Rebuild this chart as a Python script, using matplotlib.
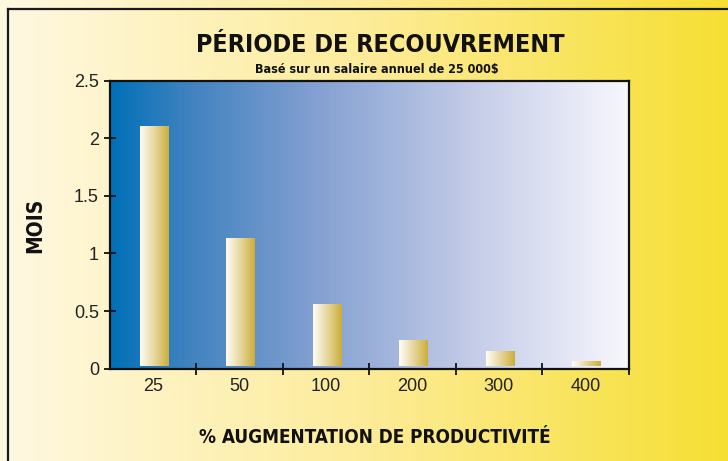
import numpy as np
import matplotlib
matplotlib.use('Agg')
import matplotlib.pyplot as plt
from matplotlib.colors import LinearSegmentedColormap
from matplotlib.lines import Line2D

# data
categories = ['25', '50', '100', '200', '300', '400']
months = [2.10, 1.125, 0.56, 0.24, 0.145, 0.058]
y_ticks = [0, 0.5, 1, 1.5, 2, 2.5]
y_tick_labels = ['0', '0.5', '1', '1.5', '2', '2.5']

title = 'PÉRIODE DE RECOUVREMENT'
subtitle = 'Basé sur un salaire annuel de 25 000$'
x_label = '% AUGMENTATION DE PRODUCTIVITÉ'
y_label = 'MOIS'

narrow = ['DejaVu Sans']
plain = ['Liberation Sans', 'DejaVu Sans']

# colour ramps
bg_cmap = LinearSegmentedColormap.from_list('bg', [
    (0.0, (1.00, 0.973, 0.886)),
    (0.5, (0.992, 0.925, 0.600)),
    (1.0, (0.965, 0.875, 0.200))])
plot_cmap = LinearSegmentedColormap.from_list('plot', [
    (0.0, (0.00, 0.44, 0.72)),
    (0.15, (0.25, 0.51, 0.75)),
    (0.40, (0.52, 0.63, 0.82)),
    (0.70, (0.77, 0.80, 0.91)),
    (1.0, (0.97, 0.97, 0.99))])
bar_cmap = LinearSegmentedColormap.from_list('bar', [
    (0.0, (1.0, 0.995, 0.97)),
    (0.5, (0.90, 0.84, 0.62)),
    (1.0, (0.80, 0.68, 0.22))])
ramp = np.linspace(0, 1, 256).reshape(1, -1)

fig = plt.figure(figsize=(7.28, 4.61), dpi=100)

# yellow page background
bg = fig.add_axes([0, 0, 1, 1], zorder=-10)
bg.imshow(ramp, cmap=bg_cmap, aspect='auto', extent=[0, 1, 0, 1])
bg.set_axis_off()

# page frame (top and left edges only are visible)
fx, fy = 7.5 / 728, 1 - 9.5 / 461
fig.add_artist(Line2D([fx, fx], [0, fy], transform=fig.transFigure, color='#1a1a1a', lw=1.6))
fig.add_artist(Line2D([fx, 1], [fy, fy], transform=fig.transFigure, color='#1a1a1a', lw=1.6))

ax = fig.add_axes([110 / 728, 1 - 368.7 / 461, 518.6 / 728, 288 / 461])
x = np.arange(len(categories))
ax.imshow(ramp, cmap=plot_cmap, aspect='auto', extent=[-0.5, len(categories) - 0.5, 0, 2.5], zorder=0)

# bars: white-to-gold gradient filling each bar rectangle
base = 0.022
bars = ax.bar(x + 0.01, np.array(months) - base, bottom=base, width=0.33, color='none', zorder=2)
for b in bars:
    x0, y0, w, h = b.get_x(), b.get_y(), b.get_width(), b.get_height()
    ax.imshow(ramp, cmap=bar_cmap, aspect='auto', extent=[x0, x0 + w, y0, y0 + h], zorder=2)
ax.set_xlim(-0.5, len(categories) - 0.5)
ax.set_ylim(0, 2.5)

for s in ax.spines.values():
    s.set_linewidth(1.6)
    s.set_color('#111111')

ax.set_xticks(x, categories)
ax.set_xticks(np.append(x[1:] - 0.5, x[-1] + 0.5), minor=True)
ax.tick_params(axis='x', which='major', length=0, pad=7, labelsize=13, labelcolor='#222222')
ax.tick_params(axis='x', which='minor', direction='inout', length=8.5, width=1.3, color='#111111')
ax.set_yticks(y_ticks, y_tick_labels)
ax.tick_params(axis='y', direction='inout', length=8, width=1.3, color='#111111',
               pad=4, labelsize=13, labelcolor='#222222')
for lab in ax.get_xticklabels() + ax.get_yticklabels():
    lab.set_family(plain)

fig.text(0.522, 0.902, title, ha='center', va='center', family=narrow, fontstretch='condensed',
         fontweight='bold', fontsize=18, color='#111111')
fig.text(0.518, 0.850, subtitle, ha='center', va='center', family=narrow, fontstretch='condensed',
         fontweight='bold', fontsize=9, color='#111111')
fig.text(0.515, 0.052, x_label, ha='center', va='center', family=narrow, fontstretch='condensed',
         fontweight='bold', fontsize=13.6, color='#111111')
fig.text(0.048, 0.512, y_label, ha='center', va='center', rotation=90, family=narrow,
         fontstretch='condensed', fontweight='bold', fontsize=15, color='#111111')

plt.savefig('out.png', dpi=100)
